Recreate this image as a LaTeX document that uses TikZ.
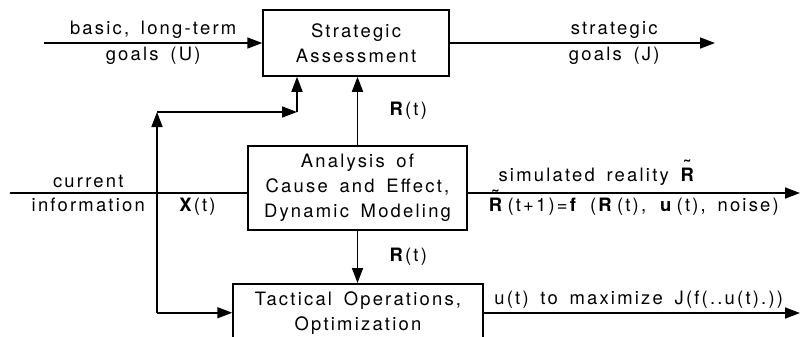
\documentclass[tikz,border=0pt]{standalone}
\usepackage{fontspec}
\setmainfont[LetterSpace=12,WordSpace=1.6]{TeX Gyre Heros}
\usetikzlibrary{arrows.meta}
\newcommand{\Rtil}{\ooalign{\textbf{R}\cr\hidewidth\raisebox{0.45em}{\textbf{\char"02DC}}\hidewidth\cr}}

\begin{document}
\begin{tikzpicture}
  [x=1bp, y=-1bp, font=\fontsize{18.5}{25}\selectfont,
   block/.style={draw, line width=1.5pt, align=center, inner sep=0pt},
   flow/.style={line width=1.6pt, -{Triangle[length=15bp,width=11bp]}},
   wire/.style={line width=1.6pt}]
  \clip (0,0) rectangle (803,336);

  % boxes
  \node[block, minimum width=186bp, minimum height=66bp] (strat) at (356,43) {Strategic\\Assessment};
  \node[block, minimum width=219bp, minimum height=84bp] (anal) at (357.5,188) {Analysis of\\Cause and Effect,\\Dynamic Modeling};
  \node[block, minimum width=250bp, minimum height=58bp, anchor=north] (tact) at (358,283) {Tactical Operations,\\Optimization};

  % free ends
  \coordinate (uin) at (44,43);
  \coordinate (jout) at (715,43);
  \coordinate (xin) at (10,193);
  \coordinate (simout) at (800,193);
  \coordinate (uout) at (800,313);
  \coordinate (xb) at (157,112);
  \coordinate (xc) at (297,112);

  \draw[flow] (uin) -- node[above=0bp] {basic, long-term} node[below=0bp] {goals (U)} (strat.west);
  \draw[flow] (strat.east) -- node[pos=0.62, above=0bp] {strategic} node[pos=0.62, below=0bp] {goals (J)} (jout);

  \draw[wire] (xin) -- node[pos=0.33, above=1bp] {current} node[pos=0.33, below=1bp] {information}
    node[pos=0.79, below=1bp] {\textbf{X}(t)} (xin -| anal.west);
  \draw[flow] (xb |- tact.west) -- (xb);
  \draw[flow] (xb |- tact.west) -- (tact.west);
  \draw[flow] (xb) -- (xc);
  \draw[flow] (xc) -- (xc |- strat.south);

  \draw[flow] (anal.north) -- node[right=28bp] {\textbf{R}(t)} (anal.north |- strat.south);
  \draw[flow] (anal.south) -- node[right=28bp] {\textbf{R}(t)} (anal.south |- tact.north);

  \draw[flow] (simout -| anal.east) -- node[pos=0.39, above=3bp] {simulated reality \Rtil}
    node[pos=0.5, below=1bp] {\Rtil\,(t+1)=\textbf{f} (\textbf{R}\,(t), \textbf{u}\,(t), noise)} (simout);
  \draw[flow] (uout -| tact.east) -- node[pos=0.49, above=0bp] {u(t) to maximize J(f(..u(t).))} (uout);
\end{tikzpicture}
\end{document}
